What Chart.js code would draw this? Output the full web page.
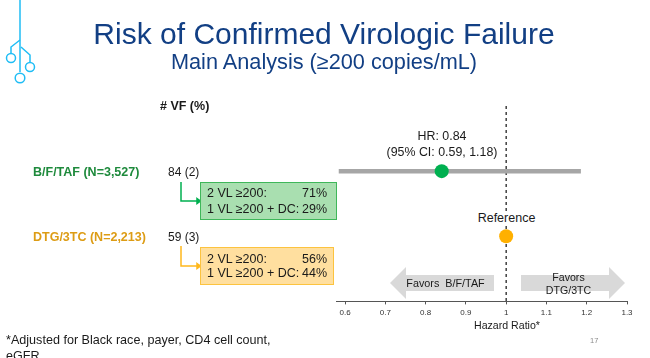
<!DOCTYPE html>
<html>
<head>
<meta charset="utf-8">
<title>Risk of Confirmed Virologic Failure</title>
<script src="https://cdn.jsdelivr.net/npm/chart.js@4"></script>
<style>
  html, body { margin: 0; padding: 0; background: #fff; overflow: hidden; }
  body { width: 650px; height: 358px; position: relative; font-family: "Liberation Sans", Arial, sans-serif; color: #1a1a1a; }
  canvas { position: absolute; left: 0; top: 0; }
  .txt { position: absolute; white-space: nowrap; line-height: 1; }
  .center { transform: translateX(-50%); text-align: center; }
  .title { color: #123f84; }
  .box { position: absolute; box-sizing: border-box; border-width: 1px; border-style: solid; }
  .arrow { position: absolute; background: #d9d9d9; }
</style>
</head>
<body>
<canvas id="miGrafica" width="650" height="358"></canvas>

<!-- logo -->
<svg style="position:absolute;left:0;top:0" width="40" height="90" fill="none" stroke="#1fbdf5" stroke-width="1.5">
  <path d="M20 0V72"/>
  <path d="M20 40L11 47V53"/>
  <path d="M21 47L30 55V62"/>
  <circle cx="11" cy="58" r="4.5"/>
  <circle cx="30" cy="67" r="4.5"/>
  <circle cx="20" cy="78" r="4.8"/>
</svg>

<div class="txt title center" style="left:324px;top:19px;font-size:30px">Risk of Confirmed Virologic Failure</div>
<div class="txt title center" style="left:324px;top:51px;font-size:21.7px">Main Analysis (≥200 copies/mL)</div>

<div class="txt" style="left:160px;top:100px;font-size:12.5px;font-weight:bold"># VF (%)</div>
<div class="txt" style="left:33px;top:166px;font-size:12.5px;font-weight:bold;color:#1e8a3c">B/F/TAF (N=3,527)</div>
<div class="txt" style="left:168px;top:166px;font-size:12px">84 (2)</div>
<div class="txt" style="left:33px;top:231px;font-size:12.5px;font-weight:bold;color:#dd9c14">DTG/3TC (N=2,213)</div>
<div class="txt" style="left:168px;top:231px;font-size:12px">59 (3)</div>

<!-- connectors -->
<svg style="position:absolute;left:0;top:0" width="210" height="290" fill="none" stroke-width="1.5">
  <path d="M181 182V201H197" stroke="#00b050"/>
  <path d="M197 198.5L200.5 201L197 203.5Z" fill="#00b050" stroke="#00b050"/>
  <path d="M181 246V266H197" stroke="#ffb81c"/>
  <path d="M197 263.5L200.5 266L197 268.5Z" fill="#ffb81c" stroke="#ffb81c"/>
</svg>

<div class="box" style="left:200px;top:182px;width:137px;height:38px;background:#a9dfb0;border-color:#3fb75a"></div>
<div class="box" style="left:200px;top:247px;width:134px;height:38px;background:#ffdf9f;border-color:#fcc33f"></div>
<div class="txt" style="left:207px;top:187px;font-size:12.5px">2 VL ≥200:</div>
<div class="txt" style="left:302px;top:187px;font-size:12.5px">71%</div>
<div class="txt" style="left:207px;top:202.5px;font-size:12.5px">1 VL ≥200 + DC:</div>
<div class="txt" style="left:302px;top:202.5px;font-size:12.5px">29%</div>
<div class="txt" style="left:207px;top:252.5px;font-size:12.5px">2 VL ≥200:</div>
<div class="txt" style="left:302px;top:252.5px;font-size:12.5px">56%</div>
<div class="txt" style="left:207px;top:267px;font-size:12.5px">1 VL ≥200 + DC:</div>
<div class="txt" style="left:302px;top:267px;font-size:12.5px">44%</div>

<div class="txt center" style="left:442px;top:129px;font-size:12.4px;line-height:15.5px">HR: 0.84<br>(95% CI: 0.59, 1.18)</div>
<div class="txt center" style="left:506.5px;top:211px;font-size:12.5px;padding:1px 1px;background:#fff">Reference</div>

<!-- favors arrows -->
<div class="arrow" style="left:390px;top:267px;width:104px;height:32px;clip-path:polygon(0 50%,16px 0,16px 8px,100% 8px,100% 24px,16px 24px,16px 100%)"></div>
<div class="arrow" style="left:521px;top:267px;width:104px;height:32px;clip-path:polygon(0 8px,88px 8px,88px 0,100% 50%,88px 100%,88px 24px,0 24px)"></div>
<div class="txt center" style="left:445.5px;top:278px;font-size:10.8px;white-space:pre">Favors  B/F/TAF</div>
<div class="txt center" style="left:568.5px;top:271px;font-size:10.6px;line-height:13.3px">Favors<br>DTG/3TC</div>

<div class="txt center" style="left:507px;top:320px;font-size:10.6px">Hazard Ratio*</div>
<div class="txt" style="left:6px;top:334px;font-size:12.6px">*Adjusted for Black race, payer, CD4 cell count,</div>
<div class="txt" style="left:6px;top:350px;font-size:12.6px">eGFR</div>
<div class="txt" style="left:590px;top:337px;font-size:7.5px;color:#8c8c8c">17</div>

<script>
// Datos del forest plot
const tickValues = [0.6, 0.7, 0.8, 0.9, 1, 1.1, 1.2, 1.3]
const hazardRatio = 0.84
const ciLow = 0.59
const ciHigh = 1.18
const referenceValue = 1
const rowTreatment = 1
const rowReference = 2
const rowCount = 3
const axisMin = 0.5776
const axisMax = 1.3

const ctx = document.getElementById('miGrafica').getContext('2d')

new Chart(ctx, {
  type: 'scatter',
  data: {
    datasets: [
      {
        // linea punteada del valor de referencia
        data: [{ x: referenceValue, y: 0 }, { x: referenceValue, y: rowCount }],
        showLine: true,
        borderColor: '#111',
        borderWidth: 1.2,
        borderDash: [3, 3],
        pointRadius: 0,
        order: 3
      },
      {
        data: [{ x: ciLow, y: rowTreatment }, { x: ciHigh, y: rowTreatment }],
        showLine: true,
        borderColor: '#a6a6a6',
        borderWidth: 4.5,
        borderCapStyle: 'square',
        pointRadius: 0,
        order: 2
      },
      {
        data: [{ x: hazardRatio, y: rowTreatment }],
        backgroundColor: '#00b050',
        borderWidth: 0,
        pointRadius: 7,
        order: 1
      },
      {
        data: [{ x: referenceValue, y: rowReference }],
        backgroundColor: '#ffb000',
        borderWidth: 0,
        pointRadius: 7,
        order: 1
      }
    ]
  },
  options: {
    responsive: false,
    animation: false,
    layout: { padding: { left: 336, right: 23, top: 106, bottom: 36 } },
    plugins: { legend: { display: false }, tooltip: { enabled: false } },
    scales: {
      x: {
        type: 'linear',
        min: axisMin,
        max: axisMax,
        afterBuildTicks: axis => { axis.ticks = tickValues.map(value => ({ value })) },
        border: { color: '#555', width: 1 },
        grid: { drawOnChartArea: false, tickLength: 3, color: '#555' },
        ticks: {
          autoSkip: false,
          maxRotation: 0,
          padding: 4,
          color: '#333',
          font: { size: 8, family: 'Liberation Sans' },
          callback: value => String(value)
        }
      },
      y: {
        type: 'linear',
        display: false,
        reverse: true,
        min: 0,
        max: rowCount
      }
    }
  }
})
</script>
</body>
</html>
